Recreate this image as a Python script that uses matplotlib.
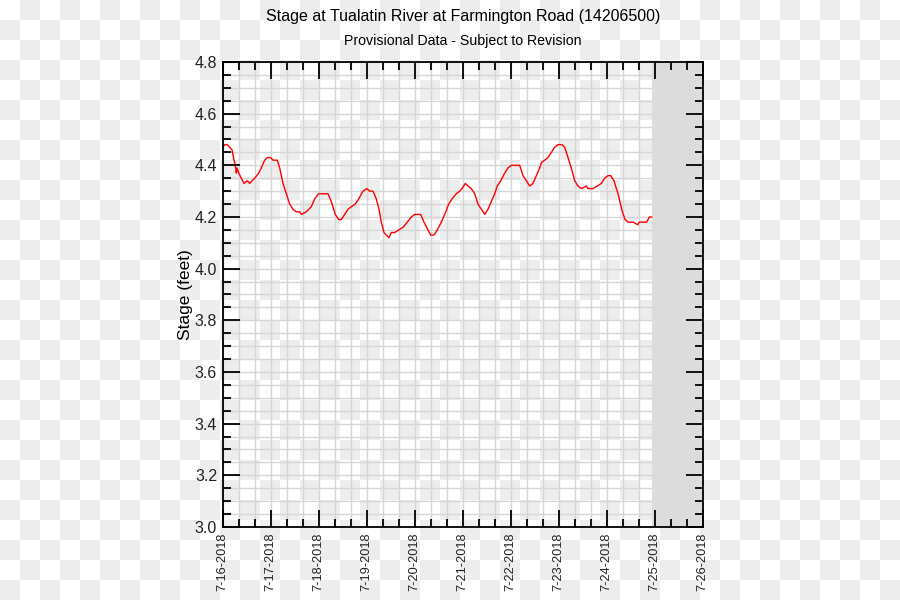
"""Stage hydrograph, Tualatin River at Farmington Road."""
import numpy as np
import pandas as pd
import matplotlib
matplotlib.use("Agg")
import matplotlib.pyplot as plt
import matplotlib.dates as mdates
from matplotlib.ticker import MultipleLocator, FuncFormatter

plt.rcParams['font.family'] = ['Liberation Sans', 'DejaVu Sans']

TITLE = "Stage at Tualatin River at Farmington Road (14206500)"
SUBTITLE = "Provisional Data - Subject to Revision"
YLABEL = "Stage (feet)"

START = "2018-07-16"
END = "2018-07-26"

# hours since 7-16-2018 00:00
hours = [0, 1.0, 2.3, 3.5, 4.65, 5.65, 6.3, 6.8, 7.15, 8.0, 9.3, 10.65, 12.3, 13.5,
         14.65, 16, 18, 19.3, 21, 22.3, 24, 25.15, 27.3, 28.5, 30.15, 31.8, 33.5,
         35.15, 36.8, 38.5, 39.3, 41.8, 44.3, 46, 48, 52.65, 54.3, 56.3, 58, 59.3,
         61, 62.65, 64.3, 66.3, 68, 70.15, 72.15, 73.5, 75.15, 76.8, 78.15, 79.3,
         80.65, 81.8, 83.15, 84.3, 86, 88, 90.15, 92.3, 94.3, 96, 97.65, 99,
         100.65, 102.65, 104, 105.65, 107.3, 109.3, 111, 113, 114.65, 116.8,
         118.5, 119.65, 121.3, 122.65, 124.3, 126, 127.65, 129.3, 131, 132.65,
         134.3, 136, 137.3, 139, 141, 142.65, 144.3, 146.8, 148.5, 150.15, 151.8,
         153.5, 155.15, 156.8, 158.5, 159.3, 161, 162.65, 164.3, 166, 167.65,
         169.65, 171, 172.65, 174.3, 176, 177.65, 179.3, 181.8, 182.65, 185.15,
         187.3, 189.3, 191, 192.65, 194, 195.65, 197.65, 199.5, 201.15, 202.8,
         205.3, 207.5, 208.3, 212, 213.3, 214.5]
stage = [4.47, 4.48, 4.48, 4.47, 4.46, 4.42, 4.40, 4.37, 4.39, 4.37, 4.35, 4.33, 4.34, 4.33,
         4.34, 4.35, 4.37, 4.39, 4.42, 4.43, 4.43, 4.42, 4.42, 4.39, 4.33, 4.29, 4.25,
         4.23, 4.22, 4.22, 4.21, 4.22, 4.24, 4.27, 4.29, 4.29, 4.26, 4.21, 4.19, 4.19,
         4.21, 4.23, 4.24, 4.25, 4.27, 4.30, 4.31, 4.30, 4.30, 4.27, 4.23, 4.18,
         4.14, 4.13, 4.12, 4.14, 4.14, 4.15, 4.16, 4.18, 4.20, 4.21, 4.21, 4.21,
         4.18, 4.15, 4.13, 4.13, 4.15, 4.18, 4.21, 4.25, 4.27, 4.29,
         4.30, 4.31, 4.33, 4.32, 4.31, 4.29, 4.25, 4.23, 4.21, 4.23,
         4.26, 4.29, 4.32, 4.34, 4.37, 4.39, 4.40, 4.40, 4.40, 4.36, 4.34,
         4.32, 4.33, 4.36, 4.39, 4.41, 4.42, 4.43, 4.45, 4.47, 4.48,
         4.48, 4.47, 4.43, 4.39, 4.34, 4.32, 4.31, 4.32, 4.31, 4.31,
         4.32, 4.33, 4.35, 4.36, 4.36, 4.34, 4.29, 4.23, 4.19, 4.18,
         4.18, 4.17, 4.18, 4.18, 4.20, 4.20]

YMIN, YMAX = 3.0, 4.8


def date_label(x, pos):
    d = mdates.num2date(x)
    return f"{d.month}-{d.day}-{d.year}"


def main() -> None:
    times = pd.Timestamp(START) + pd.to_timedelta(hours, unit='h')

    fig = plt.figure(figsize=(9, 6), dpi=100)

    # checkered backdrop (20 px squares)
    bg = fig.add_axes([0, 0, 1, 1], zorder=-10)
    rows, cols = 30, 45
    checker = (np.add.outer(np.arange(rows), np.arange(cols)) % 2).astype(float)
    bg.imshow(checker, cmap=matplotlib.colors.ListedColormap(['#FFFFFF', '#EDEDED']),
              interpolation='nearest', aspect='auto', extent=[0, 1, 0, 1])
    bg.axis('off')

    ax = fig.add_axes([222.7 / 900, 1 - 527 / 600, 480 / 900, 465 / 600])
    ax.patch.set_alpha(0)

    x0, x1 = pd.Timestamp(START), pd.Timestamp(END)
    ax.set_xlim(x0, x1)
    ax.set_ylim(YMIN, YMAX)
    ax.xaxis.set_major_locator(mdates.DayLocator())
    ax.xaxis.set_minor_locator(mdates.HourLocator(byhour=[8, 16]))
    ax.xaxis.set_major_formatter(FuncFormatter(date_label))
    ax.yaxis.set_major_locator(MultipleLocator(0.2))
    ax.yaxis.set_minor_locator(MultipleLocator(0.05))
    ax.yaxis.set_major_formatter(FuncFormatter(lambda v, p: f"{v:.1f}"))

    # grid drawn by hand so the no-data shading can sit over it
    xs = list(ax.xaxis.get_majorticklocs()) + list(ax.xaxis.get_minorticklocs())
    ys = list(ax.yaxis.get_majorticklocs()) + list(ax.yaxis.get_minorticklocs())
    ax.vlines(xs, YMIN, YMAX, color='#D6D6D6', linewidth=1, zorder=0.5)
    ax.hlines(ys, mdates.date2num(x0), mdates.date2num(x1), color='#D6D6D6',
              linewidth=1, zorder=0.5)

    ax.axvspan(times[-1], x1, color='#DCDCDC', zorder=1, linewidth=0)
    ax.plot(times, stage, color='red', linewidth=1.0, zorder=2)

    ax.set_axisbelow(False)
    for s in ax.spines.values():
        s.set_linewidth(1.3)
        s.set_zorder(3)
    ax.tick_params(which='both', direction='in', top=True, right=True, width=1.3,
                   color='black')
    ax.tick_params(which='major', length=12)
    ax.tick_params(which='minor', length=6)
    ax.tick_params(axis='y', labelsize=11.5, pad=4, labelcolor='#222222')
    ax.tick_params(axis='x', labelsize=9.2, pad=4, labelrotation=90, labelcolor='#222222')

    ax.set_ylabel(YLABEL, fontsize=12.5, labelpad=1)
    fig.text(462.7 / 900, 1 - 16 / 600, TITLE, ha='center', va='center', fontsize=11.5)
    fig.text(462.7 / 900, 1 - 41 / 600, SUBTITLE, ha='center', va='center', fontsize=10.2)

    fig.savefig("out.png", dpi=100)
    plt.close(fig)


if __name__ == "__main__":
    main()
